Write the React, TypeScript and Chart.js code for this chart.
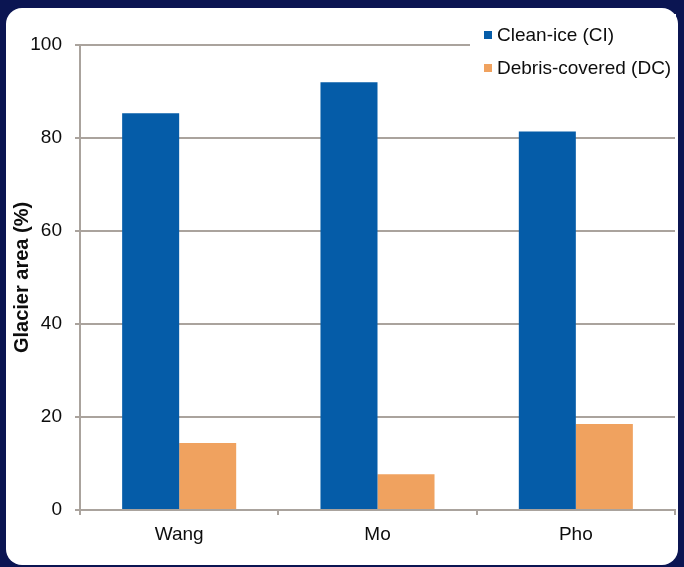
import React, { useEffect, useRef } from "react";
import { Chart, registerables } from "chart.js";

Chart.register(...registerables);

const categories = ["Wang", "Mo", "Pho"];
const cleanIce = [85.3, 92.0, 81.4];
const debrisCovered = [14.4, 7.7, 18.5];
const seriesLabels = ["Clean-ice (CI)", "Debris-covered (DC)"];
const seriesColors = ["#055ca8", "#f0a25f"];
const yAxisTitle = "Glacier area (%)";
const yMin = 0;
const yMax = 100;
const yStep = 20;

const GRID = "#aaa39d";
const TEXT = "#0d0d0d";
const FONT = "'Liberation Sans', Arial, Helvetica, sans-serif";

const legendPlugin = {
  id: "customLegend",
  afterDraw(chart: any) {
    const ctx = chart.ctx;
    const right = chart.chartArea.right;
    ctx.save();
    ctx.fillStyle = "#ffffff";
    ctx.fillRect(right - 205, 14, 206, 72);
    chart.data.datasets.forEach((ds: any, i: number) => {
      const y = 35 + i * 33;
      ctx.fillStyle = ds.backgroundColor;
      ctx.fillRect(right - 191, y - 4, 8, 8);
      ctx.fillStyle = TEXT;
      ctx.font = `19px ${FONT}`;
      ctx.textBaseline = "middle";
      ctx.textAlign = "left";
      ctx.fillText(ds.label, right - 178, y + 1);
    });
    ctx.restore();
  },
};

export default function App() {
  const ref = useRef<HTMLCanvasElement>(null);

  useEffect(() => {
    if (!ref.current) return;
    const chart = new Chart(ref.current, {
      type: "bar",
      data: {
        labels: categories,
        datasets: [
          {
            label: seriesLabels[0],
            data: cleanIce,
            backgroundColor: seriesColors[0],
            categoryPercentage: 0.575,
            barPercentage: 1,
          },
          {
            label: seriesLabels[1],
            data: debrisCovered,
            backgroundColor: seriesColors[1],
            categoryPercentage: 0.575,
            barPercentage: 1,
          },
        ],
      },
      options: {
        animation: false,
        responsive: false,
        devicePixelRatio: 1,
        layout: { padding: { top: 45, right: 9, left: 0, bottom: 0 } },
        plugins: {
          legend: { display: false },
          tooltip: { enabled: false },
        },
        scales: {
          x: {
            grid: {
              display: true,
              drawOnChartArea: false,
              drawTicks: true,
              tickLength: 5,
              color: GRID,
              lineWidth: 2,
              offset: true,
            },
            border: { display: true, color: GRID, width: 2 },
            ticks: { font: { family: FONT, size: 19 }, color: TEXT, padding: 8 },
            afterFit: (s: any) => {
              s.height = 57;
            },
          },
          y: {
            min: yMin,
            max: yMax,
            ticks: { stepSize: yStep, padding: 13, font: { family: FONT, size: 19 }, color: TEXT },
            grid: { color: GRID, lineWidth: 2, tickLength: 5 },
            border: { display: true, color: GRID, width: 2 },
            title: {
              display: true,
              text: yAxisTitle,
              font: { family: FONT, size: 20, weight: "bold" },
              color: TEXT,
              padding: { top: 10, bottom: 0 },
            },
            afterFit: (s: any) => {
              s.width = 80;
            },
          },
        },
      },
      plugins: [legendPlugin],
    });
    return () => chart.destroy();
  }, []);

  return (
    <div
      style={{
        position: "absolute",
        left: 0,
        top: 0,
        width: 684,
        height: 567,
        background: "#0b1552",
        overflow: "hidden",
      }}
    >
      <div
        style={{
          position: "absolute",
          left: 6,
          top: 8,
          width: 672,
          height: 557,
          borderRadius: 16,
          background: "#ffffff",
        }}
      />
      <canvas
        ref={ref}
        width={684}
        height={567}
        style={{ position: "absolute", left: 0, top: 0, width: 684, height: 567 }}
      />
    </div>
  );
}
